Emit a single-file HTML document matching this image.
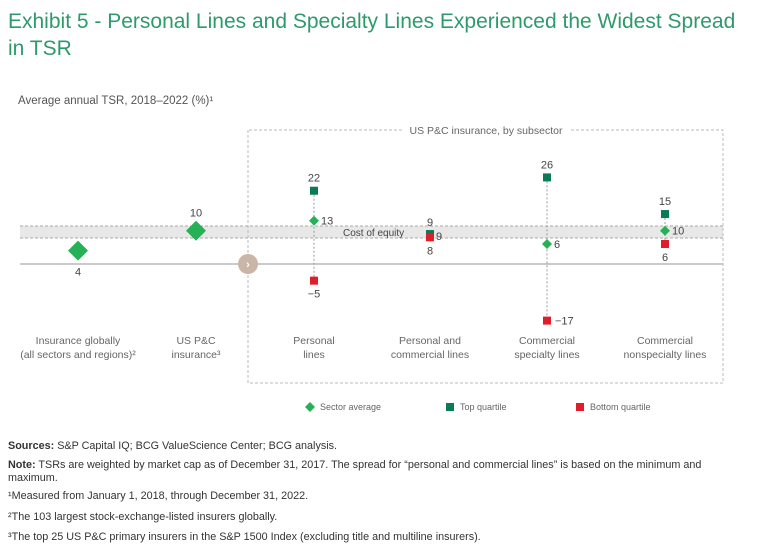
<!DOCTYPE html>
<html><head><meta charset="utf-8"><style>
body{margin:0;background:#fff;width:768px;height:551px;overflow:hidden;font-family:"Liberation Sans",sans-serif}
svg text{font-family:"Liberation Sans",sans-serif}
.fn{position:absolute;left:8px;font-size:10.8px;color:#333;white-space:nowrap;line-height:13px}
</style></head><body>
<svg id="c" width="768" height="551" style="position:absolute;left:0;top:0">
<text x="8" y="28" font-size="21" fill="#2e9a6c">Exhibit 5 - Personal Lines and Specialty Lines Experienced the Widest Spread</text>
<text x="8" y="55" font-size="21" fill="#2e9a6c">in TSR</text>
<text x="18" y="104" font-size="11.5" fill="#555">Average annual TSR, 2018–2022 (%)¹</text>
<g id="g"></g>
</svg>
<div class="fn" style="top:440px"><b>Sources:</b> S&amp;P Capital IQ; BCG ValueScience Center; BCG analysis.</div>
<div class="fn" style="top:459px;white-space:normal;width:740px"><b>Note:</b> TSRs are weighted by market cap as of December 31, 2017. The spread for “personal and commercial lines” is based on the minimum and maximum.</div>
<div class="fn" style="top:490px">¹Measured from January 1, 2018, through December 31, 2022.</div>
<div class="fn" style="top:511px">²The 103 largest stock-exchange-listed insurers globally.</div>
<div class="fn" style="top:531px">³The top 25 US P&amp;C primary insurers in the S&amp;P 1500 Index (excluding title and multiline insurers).</div>
<script>
const categories=["Insurance globally|(all sectors and regions)²","US P&C|insurance³","Personal|lines","Personal and|commercial lines","Commercial|specialty lines","Commercial|nonspecialty lines"];
const sectorAvg=[4,10,13,null,6,10];
const topQuartile=[null,null,22,9,26,15];
const bottomQuartile=[null,null,-5,8,-17,6];
const costOfEquity=[7.8,11.4];
const catX=[78,196,314,430,547,665];
const y=v=>264-v*3.33;
const g=document.getElementById('g');
const NS='http://www.w3.org/2000/svg';
function mk(t,a,txt){const e=document.createElementNS(NS,t);for(const k in a)e.setAttribute(k,a[k]);if(txt!=null)e.textContent=txt;g.appendChild(e);return e;}
let e;
e=mk('rect',{x:20,y:y(costOfEquity[1]),width:703,height:y(costOfEquity[0])-y(costOfEquity[1]),fill:'#e8e8e8'});

[costOfEquity[0],costOfEquity[1]].forEach(v=>{mk('line',{x1:20,x2:723,y1:y(v),y2:y(v),stroke:'#aaa','stroke-dasharray':'3,2'});});
e=mk('text',{x:343,y:y(9.6)+4,'font-size':10,fill:'#444'},'Cost of equity');

e=mk('line',{x1:20,x2:723,y1:y(0),y2:y(0),stroke:'#aaa','stroke-width':1.3});

e=mk('path',{d:'M248,130 V383 H723 V130 H570 M402,130 H248',fill:'none',stroke:'#bbb','stroke-dasharray':'3,2'});

e=mk('text',{x:486,y:134,'font-size':10.5,fill:'#666','text-anchor':'middle'},'US P&C insurance, by subsector');

e=mk('circle',{cx:248,cy:y(0),r:10,fill:'#c9b6a8'});

mk('text',{x:248,y:y(0)+4,'font-size':11,fill:'#fff','text-anchor':'middle','font-weight':'bold'},'›');
categories.forEach((c,i)=>{
 const x=catX[i];const ls=c.split('|');
 ls.forEach((l,j)=>{e=mk('text',{x:x,y:344+j*14,'font-size':10.5,fill:'#666','text-anchor':'middle'},l);
  });
 const t=topQuartile[i],b=bottomQuartile[i],a=sectorAvg[i];
 if(t!=null&&b!=null){mk('line',{x1:x,x2:x,y1:y(t),y2:y(b),stroke:'#999','stroke-dasharray':'2,2'});}
 if(t!=null){e=mk('rect',{x:x-4,y:y(t)-4,width:8,height:8,fill:'#0b7a55'});
  
  if(i===3){mk('text',{x:x,y:y(t)-8,'font-size':11,fill:'#444','text-anchor':'middle'},t);mk('text',{x:x+6,y:y(t)+6,'font-size':11,fill:'#444'},t);}
  else mk('text',{x:x,y:y(t)-9,'font-size':11,fill:'#444','text-anchor':'middle'},t);}
 if(b!=null){e=mk('rect',{x:x-4,y:y(b)-4,width:8,height:8,fill:'#e11d2c'});
  
  if(i===4)mk('text',{x:x+8,y:y(b)+4,'font-size':11,fill:'#444'},'−'+Math.abs(b));
  else mk('text',{x:x,y:y(b)+17,'font-size':11,fill:'#444','text-anchor':'middle'},b<0?'−'+Math.abs(b):b);}
 if(a!=null){const s=i<2?10:5;
  e=mk('path',{d:`M${x},${y(a)-s} L${x+s},${y(a)} L${x},${y(a)+s} L${x-s},${y(a)} Z`,fill:'#26b156'});
  
  if(i===0)mk('text',{x:x,y:y(a)+25,'font-size':11,fill:'#444','text-anchor':'middle'},a);
  else if(i===1)mk('text',{x:x,y:y(a)-14,'font-size':11,fill:'#444','text-anchor':'middle'},a);
  else mk('text',{x:x+7,y:y(a)+4,'font-size':11,fill:'#444'},a);}
});
const leg=[['diamond','#26b156','Sector average',310],['square','#0b7a55','Top quartile',450],['square','#e11d2c','Bottom quartile',580]];
leg.forEach(l=>{const cy=407;
 if(l[0]==='diamond')mk('path',{d:`M${l[3]},${cy-5} l5,5 l-5,5 l-5,-5 Z`,fill:l[1]});
 else mk('rect',{x:l[3]-4,y:cy-4,width:8,height:8,fill:l[1]});
 e=mk('text',{x:l[3]+10,y:cy+3,'font-size':9,fill:'#666'},l[2]);
 });
</script>
</body></html>
